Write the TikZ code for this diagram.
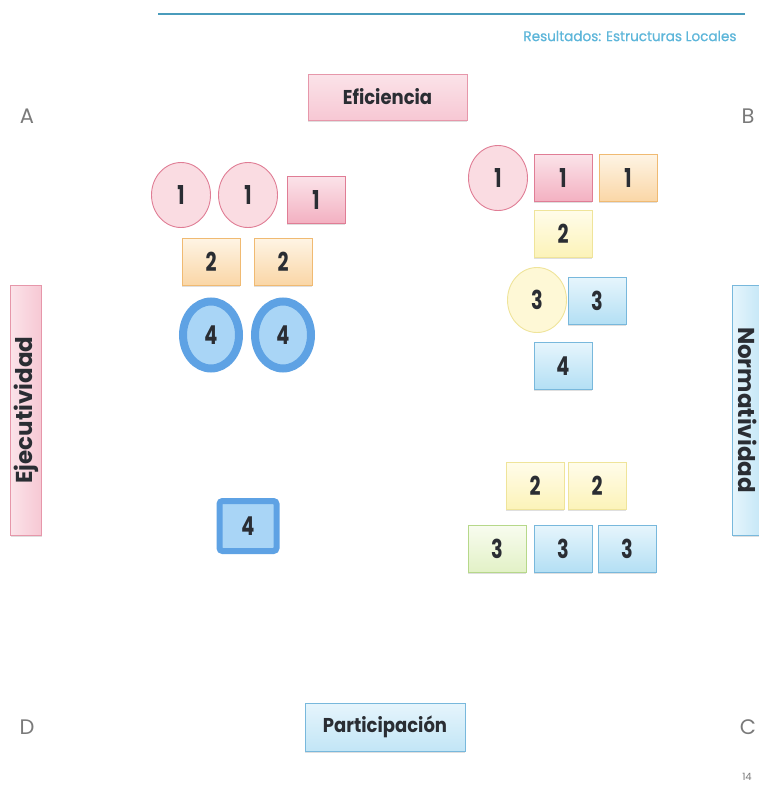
\documentclass[tikz,border=0pt]{standalone}
\usepackage{fontspec}
\setmainfont{Poppins}
\newfontfamily\popfont{Poppins}
\newfontfamily\pophdr[FakeBold=0.6]{Poppins}
\usetikzlibrary{shapes.geometric,shadows}
\newcommand\nm[1]{\scalebox{0.74}[1]{#1}}
\newcommand\lbl[1]{\scalebox{0.9}[1]{#1}}
\definecolor{hdrline}{HTML}{4A9CBC}
\definecolor{hdrtext}{HTML}{5DB6DA}
\definecolor{cornergray}{HTML}{7A7A7A}
\definecolor{txtdark}{HTML}{2A2D33}
\definecolor{pinkT}{HTML}{FBE3E9}
\definecolor{pinkB}{HTML}{F3B0C1}
\definecolor{pinkD}{HTML}{E07D95}
\definecolor{pinkC}{HTML}{FADCE2}
\definecolor{orT}{HTML}{FEF4E4}
\definecolor{orB}{HTML}{FAD6A6}
\definecolor{orD}{HTML}{F0BA72}
\definecolor{yeT}{HTML}{FFFCEA}
\definecolor{yeB}{HTML}{FCF3B8}
\definecolor{yeD}{HTML}{EFE49A}
\definecolor{blT}{HTML}{E6F5FC}
\definecolor{blB}{HTML}{B3DFF4}
\definecolor{blD}{HTML}{78B8DC}
\definecolor{grT}{HTML}{F8FCEF}
\definecolor{grB}{HTML}{E2F1C6}
\definecolor{grD}{HTML}{B6D88A}
\definecolor{ringB}{HTML}{5EA2E4}
\definecolor{ringI}{HTML}{A9D5F6}
\tikzset{
  numtxt/.style={font=\popfont\bfseries\fontsize{26}{26}\selectfont, text=txtdark},
  rbox/.style={rectangle, minimum width=58pt, minimum height=47pt, inner sep=0pt, line width=0.9pt, numtxt,
     drop shadow={shadow xshift=0pt, shadow yshift=-1.5pt, opacity=0.25}},
  pinkbox/.style={rbox, draw=pinkD, top color=pinkT, bottom color=pinkB},
  orbox/.style={rbox, draw=orD, top color=orT, bottom color=orB},
  yebox/.style={rbox, draw=yeD, top color=yeT, bottom color=yeB},
  blbox/.style={rbox, draw=blD, top color=blT, bottom color=blB},
  grbox/.style={rbox, draw=grD, top color=grT, bottom color=grB},
  circ/.style={ellipse, minimum width=59pt, minimum height=65pt, inner sep=0pt, line width=0.9pt, numtxt},
  pinkcirc/.style={circ, draw=pinkD, fill=pinkC},
  yecirc/.style={circ, draw=yeD, fill=yeT!60!yeB},
  ringcirc/.style={circ, draw=ringB, fill=ringI, line width=8pt, minimum width=56pt, minimum height=67pt},
  ringbox/.style={rectangle, rounded corners=3pt, draw=ringB, fill=ringI, line width=6pt, minimum width=57pt, minimum height=50pt, inner sep=0pt, numtxt},
  axisbox/.style={rectangle, line width=0.9pt, inner sep=0pt, font=\popfont\bfseries\fontsize{20}{20}\selectfont, text=txtdark,
     drop shadow={shadow xshift=0pt, shadow yshift=-1.5pt, opacity=0.25}},
  sideaxis/.style={axisbox, font=\popfont\bfseries\fontsize{23}{23}\selectfont, minimum width=250pt, minimum height=31pt},
  corner/.style={font=\popfont\fontsize{21}{21}\selectfont, text=cornergray}
}
\begin{document}
\begin{tikzpicture}[x=1pt,y=-1pt]
\useasboundingbox[fill=white] (0,0) rectangle (759,790);
% header
\coordinate (hl) at (158,14);
\coordinate (hr) at (745,14);
\draw[hdrline, line width=2pt] (hl) -- (hr);
\node[anchor=east, font=\pophdr\fontsize{14}{14}\selectfont, text=hdrtext] (hdr) at (740,36) {\scalebox{0.97}[1]{Resultados: Estructuras Locales}};
% corners
\node[corner] (cA) at (27,116) {A};
\node[corner] (cB) at (748,116) {B};
\node[corner] (cD) at (27,727) {D};
\node[corner] (cC) at (748,727) {C};
\node[font=\fontsize{10}{10}\selectfont, text=cornergray] (pg) at (747,777) {14};
% axis labels
\node[axisbox, draw=pinkD!80, top color=pinkT, bottom color=pinkB!70, minimum width=159pt, minimum height=46pt] (ef) at (387.5,97) {\lbl{Eficiencia}};
\node[axisbox, draw=blD, top color=blT, bottom color=blB!80, minimum width=160pt, minimum height=48pt] (pa) at (385,727) {\lbl{Participación}};
\node[sideaxis, draw=pinkD!80, left color=pinkT, right color=pinkB!70, rotate=90] (ej) at (26,410) {Ejecutividad};
\node[sideaxis, draw=blD, left color=blT, right color=blB!80, rotate=-90] (no) at (748,410) {Normatividad};
% left cluster
\node[pinkcirc] (l1a) at (181,195) {\nm{1}};
\node[pinkcirc] (l1b) at (248,195) {\nm{1}};
\node[pinkbox] (l1c) at (316,200) {\nm{1}};
\node[orbox] (l2a) at (211,262) {\nm{2}};
\node[orbox] (l2b) at (283,262) {\nm{2}};
\node[ringcirc] (l4a) at (211,335) {\nm{4}};
\node[ringcirc] (l4b) at (283,335) {\nm{4}};
\node[ringbox] (l4c) at (248,526) {\nm{4}};
% right top cluster
\node[pinkcirc] (r1a) at (498,178) {\nm{1}};
\node[pinkbox] (r1b) at (563,178) {\nm{1}};
\node[orbox] (r1c) at (628,178) {\nm{1}};
\node[yebox] (r2a) at (563,234) {\nm{2}};
\node[yecirc] (r3a) at (537,300) {\nm{3}};
\node[blbox] (r3b) at (597,301) {\nm{3}};
\node[blbox] (r4a) at (563,366) {\nm{4}};
% right bottom cluster
\node[yebox] (b2a) at (535,486) {\nm{2}};
\node[yebox] (b2b) at (597,486) {\nm{2}};
\node[grbox] (b3a) at (497,549) {\nm{3}};
\node[blbox] (b3b) at (563,549) {\nm{3}};
\node[blbox] (b3c) at (627,549) {\nm{3}};
\end{tikzpicture}
\end{document}
